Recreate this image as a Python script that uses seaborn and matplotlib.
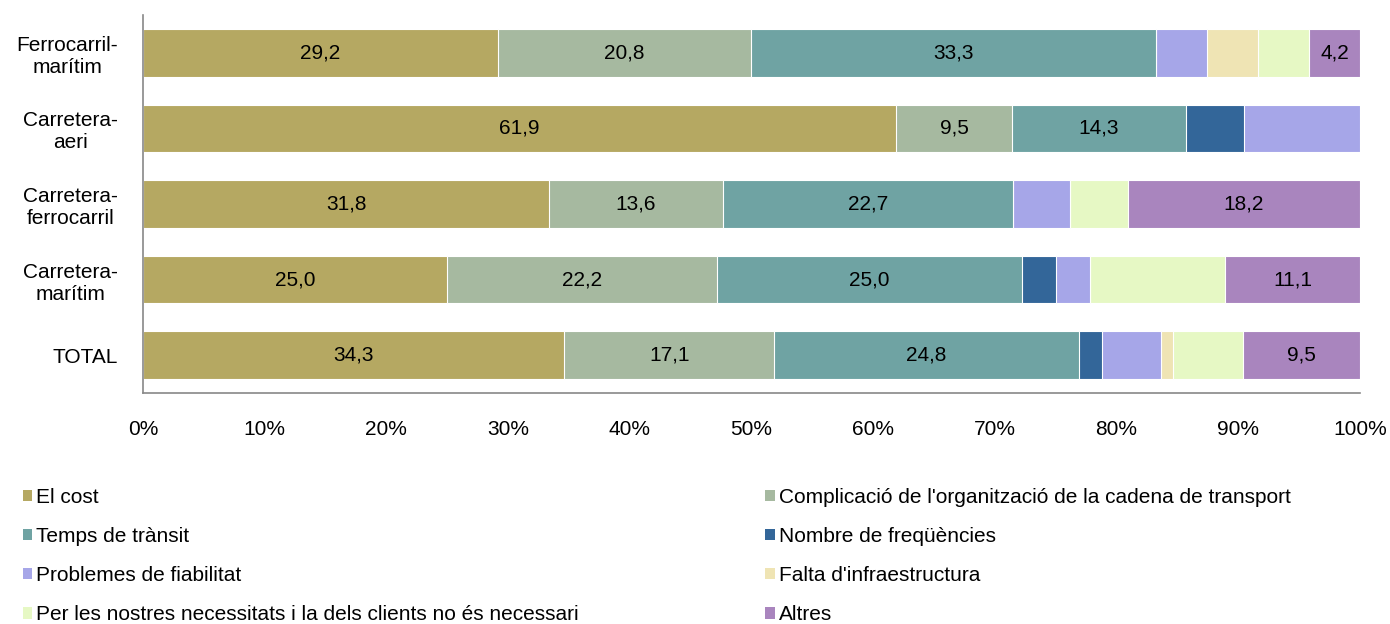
import numpy as np
import pandas as pd
import matplotlib.pyplot as plt
import seaborn as sns
from matplotlib.patches import Patch

# Categories (top to bottom) and series (% of answers)
rows = ["Ferrocarril-\nmarítim", "Carretera-\naeri", "Carretera-\nferrocarril",
        "Carretera-\nmarítim", "TOTAL"]
series = ["El cost", "Complicació de l'organització de la cadena de transport",
          "Temps de trànsit", "Nombre de freqüències", "Problemes de fiabilitat",
          "Falta d'infraestructura",
          "Per les nostres necessitats i la dels clients no és necessari", "Altres"]

el_cost      = [29.2, 61.9, 31.8, 25.0, 34.3]
complicacio  = [20.8,  9.5, 13.6, 22.2, 17.1]
temps        = [33.3, 14.3, 22.7, 25.0, 24.8]
frequencies  = [ 0.0,  4.8,  0.0,  2.8,  1.9]
fiabilitat   = [ 4.2,  9.5,  4.5,  2.8,  4.8]
infraestr    = [ 4.2,  0.0,  0.0,  0.0,  1.0]
no_necessari = [ 4.2,  0.0,  4.5, 11.1,  5.7]
altres       = [ 4.2,  0.0, 18.2, 11.1,  9.5]

colors = ["#B5A862", "#A6B9A0", "#6FA3A3", "#336699", "#A6A6E8",
          "#EFE4B4", "#E6F8C4", "#A985BE"]
labelled = {"El cost", series[1], "Temps de trànsit", "Altres"}

values = np.array([el_cost, complicacio, temps, frequencies, fiabilitat,
                   infraestr, no_necessari, altres])
# 100% stacked: normalise each row
share = values / values.sum(axis=0) * 100
cum = share.cumsum(axis=0)

sns.set_style("white")
plt.rcParams["font.family"] = ["Liberation Sans", "DejaVu Sans"]
plt.rcParams["font.size"] = 15
plt.rcParams["text.color"] = "black"
plt.rcParams["xtick.color"] = "black"
plt.rcParams["ytick.color"] = "black"

fig = plt.figure(figsize=(13.9, 6.24), dpi=100)
ax = fig.add_axes([0.1029, 0.370, 0.8755, 0.606])

# draw cumulative bars from the last series backwards so each covers the previous
for i in range(len(series) - 1, -1, -1):
    df = pd.DataFrame({"row": rows, "x": cum[i]})
    sns.barplot(data=df, x="x", y="row", order=rows, orient="h", color=colors[i],
                width=0.63, edgecolor="white", linewidth=0.8, saturation=1, ax=ax)

for i, name in enumerate(series):
    if name not in labelled:
        continue
    for j in range(len(rows)):
        if values[i, j] <= 0:
            continue
        xc = cum[i, j] - share[i, j] / 2
        ax.text(xc, j, f"{values[i, j]:.1f}".replace(".", ","), ha="center",
                va="center", fontsize=15, color="black")

ax.set_xlim(0, 100)
ax.set_ylim(4.5, -0.5)
ax.set_xticks(np.arange(0, 101, 10))
ax.set_xticklabels([f"{v}%" for v in range(0, 101, 10)])
ax.set_xlabel("")
ax.set_ylabel("")
ax.set_yticks(range(len(rows)))
ax.set_yticklabels(rows)
for lbl in ax.get_yticklabels():
    lbl.set_multialignment("center")
ax.set_yticks(np.arange(-0.5, 5, 1), minor=True)
ax.tick_params(axis="y", which="major", length=0, pad=18, labelsize=15)
ax.tick_params(axis="y", which="minor", length=5, color="#888888", direction="out")
ax.tick_params(axis="x", length=5, color="#888888", direction="out", pad=14,
               labelsize=15)
for side in ["top", "right"]:
    ax.spines[side].set_visible(False)
for side in ["left", "bottom"]:
    ax.spines[side].set_color("#888888")
    ax.spines[side].set_linewidth(1.2)

handles = [Patch(facecolor=c, edgecolor="none") for c in colors]
leg_kw = dict(frameon=False, fontsize=15, handlelength=0.45, handleheight=0.45,
              handletextpad=0.2, labelspacing=0.97, borderpad=0, loc="upper left")
fig.legend(handles[0::2], series[0::2], bbox_to_anchor=(0.009, 0.235), **leg_kw)
fig.legend(handles[1::2], series[1::2], bbox_to_anchor=(0.543, 0.235), **leg_kw)

fig.savefig("out.png", dpi=100)
